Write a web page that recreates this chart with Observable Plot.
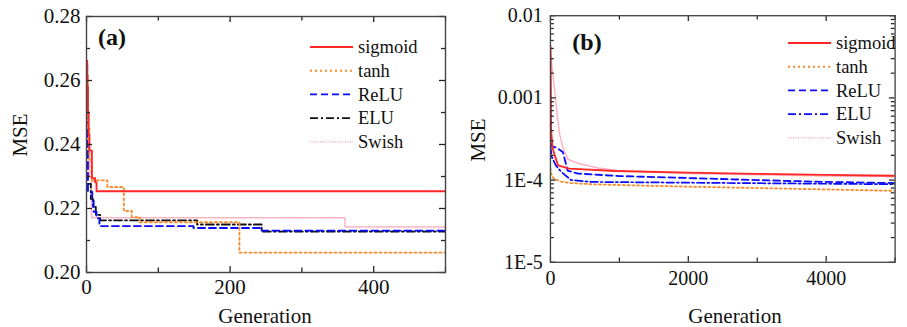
<!DOCTYPE html>
<html><head><meta charset="utf-8">
<script src="https://cdn.jsdelivr.net/npm/d3@7"></script>
<script src="https://cdn.jsdelivr.net/npm/@observablehq/plot@0.6"></script>
<style>
html,body{margin:0;padding:0;background:#fff;width:907px;height:327px;overflow:hidden;}
#wrap{position:relative;width:907px;height:327px;overflow:hidden;font-family:"Liberation Serif","Times New Roman",Times,serif;color:#111;}
.panel{position:absolute;top:0;}
.lab{position:absolute;font-size:21px;white-space:nowrap;line-height:1;}
.tag{position:absolute;font-size:24px;font-weight:bold;line-height:1;}
</style></head>
<body><div id="wrap"></div>
<script>
// ---------- data ----------
const seriesNames = ["sigmoid", "tanh", "ReLU", "ELU", "Swish"];

// panel (a): step curves, x = generation, y = MSE
const aSigmoidGen = [0, 1, 2, 3, 4, 7.5, 12, 14, 500];
const aSigmoidVal = [0.2662, 0.258, 0.250, 0.243, 0.2381, 0.2295, 0.2282, 0.2254, 0.2254];
const aTanhGen = [0, 2, 4, 7, 29, 52, 63, 74, 213, 500];
const aTanhVal = [0.2615, 0.245, 0.235, 0.2288, 0.2267, 0.2192, 0.2173, 0.2157, 0.2062, 0.2062];
const aReluGen = [0, 1, 2, 8, 10, 14, 18, 149, 244, 500];
const aReluVal = [0.2650, 0.240, 0.2252, 0.2225, 0.2190, 0.2170, 0.2145, 0.2139, 0.2131, 0.2131];
const aEluGen = [0, 6, 9, 13, 19, 154, 244, 500];
const aEluVal = [0.2277, 0.2230, 0.2205, 0.2180, 0.2163, 0.2150, 0.2128, 0.2128];
const aSwishGen = [0, 2, 4, 7, 360, 500];
const aSwishVal = [0.2620, 0.240, 0.230, 0.2171, 0.2142, 0.2142];

// panel (b): log-scale MSE
const bSigmoidGen = [0, 5, 10, 30, 65, 110, 272, 940, 2000, 3000, 4000, 5000];
const bSigmoidVal = [4.3e-3, 1.5e-3, 4.0e-4, 2.5e-4, 1.97e-4, 1.51e-4, 1.38e-4, 1.29e-4, 1.23e-4, 1.19e-4, 1.16e-4, 1.13e-4];
const bTanhGen = [0, 10, 45, 150, 300, 600, 1500, 2700, 4000, 5000];
const bTanhVal = [1.4e-4, 1.2e-4, 1.05e-4, 9.6e-5, 9.2e-5, 8.9e-5, 8.5e-5, 8.1e-5, 7.7e-5, 7.4e-5];
const bReluGen = [0, 15, 100, 180, 250, 400, 1000, 2000, 3000, 4000, 5000];
const bReluVal = [5.0e-4, 2.6e-4, 2.45e-4, 2.2e-4, 1.3e-4, 1.2e-4, 1.12e-4, 1.06e-4, 1.0e-4, 9.5e-5, 9.2e-5];
const bEluGen = [0, 20, 80, 160, 300, 600, 2000, 3500, 5000];
const bEluVal = [2.6e-4, 1.9e-4, 1.5e-4, 1.25e-4, 1.0e-4, 9.5e-5, 9.3e-5, 9.1e-5, 8.9e-5];
const bSwishGen = [0, 20, 40, 65, 100, 134, 180, 250, 400, 700, 1000, 2000, 3000, 4000, 5000];
const bSwishVal = [4.2e-3, 2.5e-3, 1.8e-3, 1.15e-3, 6e-4, 3.6e-4, 2.5e-4, 1.8e-4, 1.6e-4, 1.4e-4, 1.3e-4, 1.2e-4, 1.16e-4, 1.12e-4, 1.1e-4];

// ticks
const aXTicks = [0, 200, 400];
const aXMinor = [100, 300, 500];
const aYTicks = [0.20, 0.22, 0.24, 0.26, 0.28];
const aYMinor = [0.21, 0.23, 0.25, 0.27];
const aYLabels = ["0.20", "0.22", "0.24", "0.26", "0.28"];
const bXTicks = [0, 2000, 4000];
const bXMinor = [1000, 3000, 5000];
const bYTicks = [1e-5, 1e-4, 1e-3, 1e-2];
const bYLabels = ["1E-5", "1E-4", "0.001", "0.01"];
const bYMinor = [2,3,4,5,6,7,8,9].flatMap(m => [m*1e-5, m*1e-4, m*1e-3]);

// ---------- styles ----------
const styleA = {
  sigmoid: {stroke: "#ff2626", dash: null, width: 1.9},
  tanh:    {stroke: "#f88a2c", dash: "2,3", width: 1.9},
  ReLU:    {stroke: "#0a0aff", dash: "7,4", width: 1.9},
  ELU:     {stroke: "#111111", dash: "8,3,2,3", width: 1.8},
  Swish:   {stroke: "#ffaabd", dash: "1,1.5", width: 1.6}
};
const styleB = Object.assign({}, styleA, {ELU: {stroke: "#0a0aff", dash: "8,3,2,3", width: 1.8}});

const aData = {sigmoid: [aSigmoidGen, aSigmoidVal], tanh: [aTanhGen, aTanhVal], ReLU: [aReluGen, aReluVal], ELU: [aEluGen, aEluVal], Swish: [aSwishGen, aSwishVal]};
const bData = {sigmoid: [bSigmoidGen, bSigmoidVal], tanh: [bTanhGen, bTanhVal], ReLU: [bReluGen, bReluVal], ELU: [bEluGen, bEluVal], Swish: [bSwishGen, bSwishVal]};

function rows(pair) { return pair[0].map((g, i) => ({g, v: pair[1][i]})); }

const drawOrder = ["Swish", "ELU", "ReLU", "tanh", "sigmoid"];
function lineMarks(data, style, curve) {
  return drawOrder.map(n => Plot.line(rows(data[n]), {
    x: "g", y: "v", curve, stroke: style[n].stroke, strokeWidth: style[n].width,
    strokeDasharray: style[n].dash, clip: true
  }));
}

// inward ticks on all four sides; tick length converted from pixels into each scale's domain
function tickMarks(xDom, yDom, yLog, pw, ph, xT, xM, yT, yM) {
  const c = "#222", w = 1.3;
  const yOff = (v, px) => yLog ? v * Math.pow(yDom[1] / yDom[0], px / ph) : v + (yDom[1] - yDom[0]) * px / ph;
  const xOff = (v, px) => v + (xDom[1] - xDom[0]) * px / pw;
  const X = (vals, len) => [
    Plot.ruleX(vals, {x: d => d, y1: () => yDom[0], y2: () => yOff(yDom[0], len), stroke: c, strokeWidth: w}),
    Plot.ruleX(vals, {x: d => d, y1: () => yDom[1], y2: () => yOff(yDom[1], -len), stroke: c, strokeWidth: w})
  ];
  const Y = (vals, len) => [
    Plot.ruleY(vals, {y: d => d, x1: () => xDom[0], x2: () => xOff(xDom[0], len), stroke: c, strokeWidth: w}),
    Plot.ruleY(vals, {y: d => d, x1: () => xDom[1], x2: () => xOff(xDom[1], -len), stroke: c, strokeWidth: w})
  ];
  return [...X(xT, 6), ...X(xM, 4.5), ...Y(yT, 6), ...Y(yM, 4)];
}

const fam = "'Liberation Serif','Times New Roman',Times,serif";
const font = {fontFamily: fam, fontSize: "21px", color: "#111", background: "transparent", overflow: "visible"};

const A = {w: 450, h: 327, ml: 86, mr: 5, mt: 16, mb: 55, xd: [0, 500], yd: [0.20, 0.28]};
const plotA = Plot.plot({
  width: A.w, height: A.h,
  marginLeft: A.ml, marginRight: A.mr, marginTop: A.mt, marginBottom: A.mb,
  style: font,
  x: {domain: A.xd},
  y: {domain: A.yd},
  marks: [
    ...lineMarks(aData, styleA, "step-after"),
    ...tickMarks(A.xd, A.yd, false, A.w - A.ml - A.mr, A.h - A.mt - A.mb, aXTicks, aXMinor, aYTicks, aYMinor),
    Plot.frame({stroke: "#444", strokeWidth: 1.4}),
    Plot.axisX(aXTicks, {anchor: "bottom", tickSize: 0, tickPadding: 7, label: null, fill: "#111", fontSize: 21, tickFormat: d => String(d)}),
    Plot.axisY(aYTicks, {anchor: "left", tickSize: 0, tickPadding: 6, label: null, fill: "#111", fontSize: 21,
      tickFormat: d => aYLabels[aYTicks.indexOf(d)]})
  ]
});

const B = {w: 480, h: 327, ml: 105, mr: 13, mt: 16, mb: 52, xd: [0, 5000], yd: [1e-5, 1e-2]};
const plotB = Plot.plot({
  width: B.w, height: B.h,
  marginLeft: B.ml, marginRight: B.mr, marginTop: B.mt, marginBottom: B.mb,
  style: font,
  x: {domain: B.xd},
  y: {type: "log", domain: B.yd},
  marks: [
    ...lineMarks(bData, styleB, "linear"),
    ...tickMarks(B.xd, B.yd, true, B.w - B.ml - B.mr, B.h - B.mt - B.mb, bXTicks, bXMinor, bYTicks, bYMinor),
    Plot.frame({stroke: "#444", strokeWidth: 1.4}),
    Plot.axisX(bXTicks, {anchor: "bottom", tickSize: 0, tickPadding: 9, label: null, fill: "#111", fontSize: 21, tickFormat: d => String(d)}),
    Plot.axisY(bYTicks, {anchor: "left", tickSize: 0, tickPadding: 8, label: null, fill: "#111", fontSize: 21,
      tickFormat: d => bYLabels[bYTicks.indexOf(d)]})
  ]
});

const wrap = document.getElementById("wrap");
function place(el, left) { const d = document.createElement("div"); d.className = "panel"; d.style.left = left + "px"; d.appendChild(el); wrap.appendChild(d); }
place(plotA, 0);
place(plotB, 450);

function addText(cls, txt, css) {
  const d = document.createElement("div"); d.className = cls; d.textContent = txt;
  Object.assign(d.style, css); wrap.appendChild(d); return d;
}
function centred(cls, txt, cx, cy, rot) {
  return addText(cls, txt, {left: cx + "px", top: cy + "px", transform: "translate(-50%,-50%)" + (rot ? " rotate(-90deg)" : "")});
}
centred("lab", "Generation", 265, 316, false);
centred("lab", "Generation", 735, 316, false);
centred("lab", "MSE", 20, 135, true);
centred("lab", "MSE", 478, 140, true);
centred("tag", "(a)", 112, 37, false);
centred("tag", "(b)", 587, 42, false);

// legends
function legend(left, top, style, rowH) {
  const svg = d3.create("svg").attr("width", 130).attr("height", rowH * 5 + 10)
    .style("position", "absolute").style("left", left + "px").style("top", top + "px").style("overflow", "visible");
  seriesNames.forEach((n, i) => {
    const y = 10 + i * rowH;
    svg.append("line").attr("x1", 0).attr("x2", 43).attr("y1", y).attr("y2", y)
      .attr("stroke", style[n].stroke).attr("stroke-width", style[n].width)
      .attr("stroke-dasharray", style[n].dash);
    svg.append("text").attr("x", 48).attr("y", y).attr("dy", "0.33em")
      .attr("font-family", fam).attr("font-size", 18.5)
      .attr("fill", "#111").text(n);
  });
  wrap.appendChild(svg.node());
}
legend(310, 37, styleA, 23.7);
legend(788, 33, styleB, 23.7);
</script></body></html>
